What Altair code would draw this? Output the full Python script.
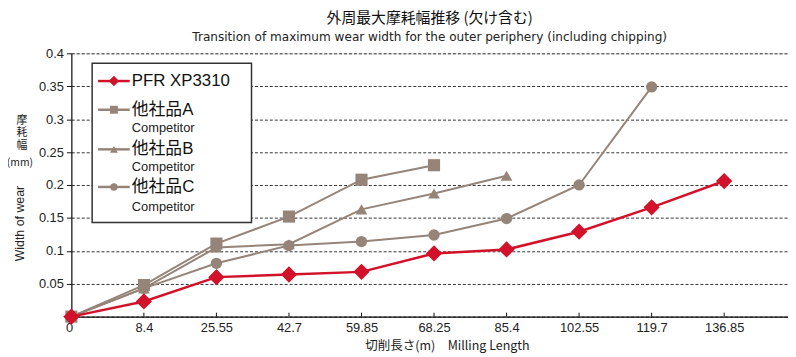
import json
import altair as alt
import pandas as pd

# ---- data ----
milling_labels = ["0", "8.4", "25.55", "42.7", "59.85", "68.25", "85.4", "102.55", "119.7", "136.85"]
series_names = ["PFR XP3310", "他社品A", "他社品B", "他社品C"]
pfr = [0.0, 0.023, 0.060, 0.064, 0.068, 0.096, 0.102, 0.129, 0.166, 0.206]
comp_a = [0.0, 0.048, 0.111, 0.152, 0.208, 0.230]
comp_b = [0.0, 0.043, 0.105, 0.110, 0.163, 0.187, 0.214]
comp_c = [0.0, 0.043, 0.081, 0.108, 0.114, 0.124, 0.149, 0.200, 0.349]
y_ticks = [0, 0.05, 0.1, 0.15, 0.2, 0.25, 0.3, 0.35, 0.4]

RED = "#d2122a"
GRAY = "#968479"
BG = "#e8e5e2"
LATIN = "Liberation Sans"
CJK = "Noto Sans CJK JP"

rows = []
for name, vals in zip(series_names, [pfr, comp_a, comp_b, comp_c]):
    for i, v in enumerate(vals):
        rows.append({"series": name, "idx": i, "value": v})
df = pd.DataFrame(rows)
df_red = df[df.series == series_names[0]]
df_comp = df[df.series != series_names[0]]

W, H = 724, 266

x_enc = alt.X(
    "idx:Q",
    scale=alt.Scale(domain=[0, 9.88], nice=False, zero=False),
    axis=alt.Axis(
        values=list(range(len(milling_labels))), tickCount=30,
        labelExpr=json.dumps(milling_labels) + "[datum.value]",
        labelOffset={"condition": {"test": "datum.value == 0", "value": -6}, "value": 0},
        tickSize=0, grid=False, labelPadding=5, labelFontSize=13,
        labelFont=LATIN, labelColor="#222", domainColor="#111", domainWidth=1.5,
        title=None,
    ),
)
y_enc = alt.Y(
    "value:Q",
    scale=alt.Scale(domain=[0, 0.4], nice=False),
    axis=alt.Axis(
        values=y_ticks, tickCount=30, format="~g",
        labelExpr="datum.value == 0 ? '' : datum.label",
        labelOverlap=False,
        grid=True, gridDash=[3, 2], gridColor="#333", gridWidth=1,
        tickSize=5, tickColor="#111", domainColor="#111", domainWidth=1.2,
        labelFontSize=13, labelFont=LATIN, labelColor="#222", labelPadding=3,
        title=None,
    ),
)

# inner small ticks on x axis
tick_df = pd.DataFrame({"idx": list(range(1, len(milling_labels)))})
inner_ticks = alt.Chart(tick_df).mark_rule(color="#111", strokeWidth=1).encode(
    x="idx:Q", y=alt.value(H), y2=alt.value(H - 4)
)

comp_lines = alt.Chart(df_comp).mark_line(color=GRAY, strokeWidth=2).encode(
    x=x_enc, y=y_enc, detail="series:N"
)
comp_points = alt.Chart(df_comp).mark_point(filled=True, opacity=1, color=GRAY).encode(
    x=x_enc, y=y_enc,
    shape=alt.Shape("series:N", scale=alt.Scale(domain=series_names[1:], range=["square", "triangle-up", "circle"]), legend=None),
    size=alt.Size("series:N", scale=alt.Scale(domain=series_names[1:], range=[150, 130, 90]), legend=None),
)
red_line = alt.Chart(df_red).mark_line(color=RED, strokeWidth=2.5).encode(x=x_enc, y=y_enc)
red_points = alt.Chart(df_red).mark_point(filled=True, opacity=1, color=RED, shape="diamond", size=270).encode(
    x=x_enc, y=y_enc
)

# ---- custom legend ----
legend_box = alt.Chart(pd.DataFrame({"a": [0]})).mark_rect(
    fill="white", stroke="#333", strokeWidth=1.5
).encode(x=alt.value(21), x2=alt.value(182), y=alt.value(10), y2=alt.value(171))

leg_df = pd.DataFrame({
    "name": series_names,
    "sub": ["", "Competitor", "Competitor", "Competitor"],
    "ly": [28, 57, 97, 135],
    "sy": [0, 75, 115, 155],
    "col": [RED, GRAY, GRAY, GRAY],
    "shp": ["diamond", "square", "triangle-up", "circle"],
    "msz": [110, 64, 64, 55],
    "lw": [2.5, 2.5, 2.5, 2.5],
})
leg_lines = alt.Chart(leg_df).mark_rule().encode(
    x=alt.value(27), x2=alt.value(59),
    y=alt.Y("ly:Q", scale=None, axis=None),
    color=alt.Color("col:N", scale=None),
    strokeWidth=alt.StrokeWidth("lw:Q", scale=None),
)
leg_pts = alt.Chart(leg_df).mark_point(filled=True, opacity=1).encode(
    x=alt.value(43),
    y=alt.Y("ly:Q", scale=None, axis=None),
    color=alt.Color("col:N", scale=None),
    shape=alt.Shape("shp:N", scale=None),
    size=alt.Size("msz:Q", scale=None),
)
leg_text = alt.Chart(leg_df).mark_text(
    align="left", baseline="middle", fontSize=17, font=LATIN + ", " + CJK, color="#111"
).encode(x=alt.value(61), y=alt.Y("ly:Q", scale=None, axis=None), text="name:N")
leg_sub = alt.Chart(leg_df[leg_df["sub"] != ""]).mark_text(
    align="left", baseline="middle", fontSize=13, font=LATIN, color="#222"
).encode(x=alt.value(61), y=alt.Y("sy:Q", scale=None, axis=None), text="sub:N")

# ---- axis titles as text ----
def txt(s, x, y, size=12, font=LATIN, angle=0, align="center", baseline="middle", **extra):
    kw = dict(text=s, fontSize=size, font=font, color="#222", align=align, baseline=baseline, **extra)
    if angle:
        kw["angle"] = angle
    return alt.Chart(pd.DataFrame({"a": [0]})).mark_text(**kw).encode(x=alt.value(x), y=alt.value(y))

y_title_en = txt("Width of wear", -52, 172, size=12.5, angle=270)
y_title_jp = txt(["摩", "耗", "幅"], -50, 62, size=11, font=CJK, baseline="top", lineHeight=12.8)
y_title_mm = txt("(mm)", -52, 111, size=10.5, font=CJK)
x_title = txt("切削長さ(m)　Milling Length", 380, 296, size=12.6, font=CJK + ", " + LATIN)

chart = alt.layer(
    comp_lines, inner_ticks, comp_points, red_line, red_points,
    legend_box, leg_lines, leg_pts, leg_text, leg_sub,
    y_title_en, y_title_jp, y_title_mm, x_title,
).properties(
    width=W, height=H,
    title=alt.TitleParams(
        text="外周最大摩耗幅推移 (欠け含む)",
        subtitle="Transition of maximum wear width for the outer periphery  (including chipping)",
        anchor="middle", font=CJK, fontSize=15, fontWeight="normal", color="#111",
        subtitleFont="DejaVu Sans", subtitleFontSize=12.2, subtitleColor="#222",
        offset=4, subtitlePadding=5,
    ),
    autosize=alt.AutoSizeParams(type="none"),
    padding={"left": 64, "top": 44, "right": 0, "bottom": 40},
).configure_view(fill=BG, stroke=None).configure(background="white")

chart.save("out.html", embed_options={"renderer": "svg", "actions": False})
